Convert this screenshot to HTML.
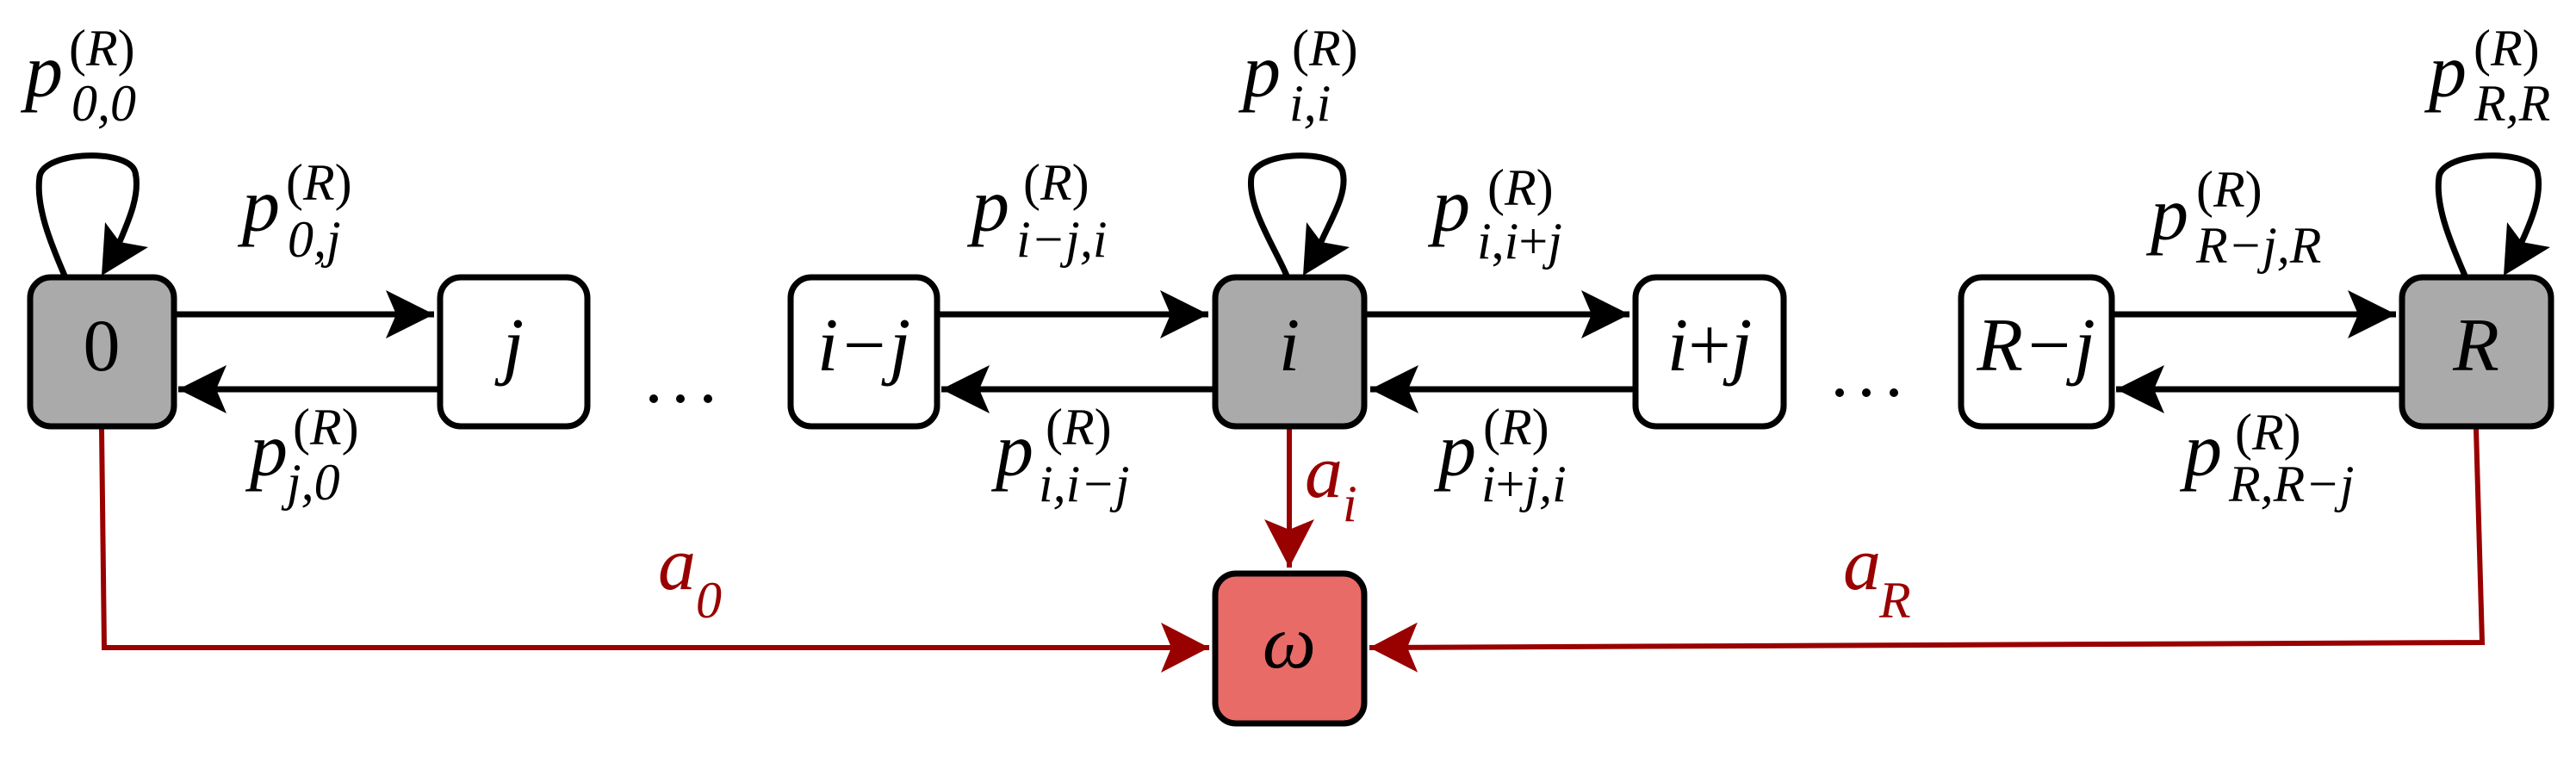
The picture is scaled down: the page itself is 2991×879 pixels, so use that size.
<!DOCTYPE html>
<html><head><meta charset="utf-8"><style>
html,body{margin:0;padding:0;background:#fff;}
svg{display:block;}
text{font-family:"Liberation Serif",serif;font-style:italic;}
.m{font-size:88px;}
.s{font-size:60px;}
.up{font-style:normal;}
</style></head><body>
<svg width="2991" height="879" viewBox="0 0 2991 879" xmlns="http://www.w3.org/2000/svg">
<defs>
<marker id="ab" markerUnits="userSpaceOnUse" viewBox="-60 -32 64 64" markerWidth="64" markerHeight="64" refX="0" refY="0" orient="auto">
<path d="M0,0 L-56,-28 L-44,0 L-56,28 Z" fill="#000"/></marker>
<marker id="ar" markerUnits="userSpaceOnUse" viewBox="-60 -32 64 64" markerWidth="64" markerHeight="64" refX="0" refY="0" orient="auto">
<path d="M0,0 L-56,-29 L-44,0 L-56,29 Z" fill="#990000"/></marker>
</defs>

<!-- red connectors -->
<g stroke="#990000" stroke-width="6" fill="none">
<path d="M118,498 L121,752 L1404,752" marker-end="url(#ar)"/>
<path d="M2875,498 L2882,746 L1590,752" marker-end="url(#ar)"/>
<path d="M1497,498 L1497,659" marker-end="url(#ar)"/>
</g>

<!-- black horizontal arrows -->
<g stroke="#000" stroke-width="7" fill="none">
<path d="M203,365 L504,365" marker-end="url(#ab)"/>
<path d="M508,452 L207,452" marker-end="url(#ab)"/>
<path d="M1089,365 L1403,365" marker-end="url(#ab)"/>
<path d="M1408,452 L1093,452" marker-end="url(#ab)"/>
<path d="M1587,365 L1892,365" marker-end="url(#ab)"/>
<path d="M1896,452 L1591,452" marker-end="url(#ab)"/>
<path d="M2453,365 L2782,365" marker-end="url(#ab)"/>
<path d="M2786,452 L2457,452" marker-end="url(#ab)"/>
</g>

<!-- self loops -->
<g stroke="#000" stroke-width="7" fill="none">
<path d="M75,320 C60,285 41,240 46,205 C51,175 150,172 157,200 C163,225 150,255 138,283"/>
<path d="M1494,320 C1479,285 1448,240 1453,205 C1458,175 1553,172 1559,200 C1565,225 1545,255 1533,283"/>
<path d="M2862,320 C2847,285 2827,240 2832,205 C2837,175 2940,172 2946,200 C2952,225 2940,255 2927,283"/>
</g>
<g fill="#000">
<path d="M118,320 L122,258 L139,281 L172,287 Z"/>
<path d="M1513,320 L1517,258 L1534,281 L1567,287 Z"/>
<path d="M2907,320 L2911,258 L2928,281 L2961,287 Z"/>
</g>

<!-- boxes -->
<g stroke="#000" stroke-width="7">
<rect x="35" y="322" width="167" height="173" rx="24" fill="#aaaaaa"/>
<rect x="511" y="322" width="171" height="173" rx="24" fill="#fff"/>
<rect x="918" y="322" width="170" height="173" rx="24" fill="#fff"/>
<rect x="1411" y="322" width="173" height="173" rx="24" fill="#aaaaaa"/>
<rect x="1899" y="322" width="172" height="173" rx="24" fill="#fff"/>
<rect x="2277" y="322" width="175" height="173" rx="24" fill="#fff"/>
<rect x="2789" y="322" width="173" height="173" rx="24" fill="#aaaaaa"/>
<rect x="1411" y="666" width="173" height="174" rx="24" fill="#e86b68"/>
</g>

<!-- node labels -->
<g class="m" text-anchor="middle" fill="#000">
<text x="118" y="430" class="up" style="font-size:86px">0</text>
<text x="596" y="430">j</text>
<text x="1003" y="430">i−j</text>
<text x="1497" y="430">i</text>
<text x="1985" y="430"><tspan>i</tspan><tspan class="up">+</tspan><tspan>j</tspan></text>
<text x="2364" y="430">R−j</text>
<text x="2875" y="430">R</text>
<text x="1497" y="775">ω</text>
</g>

<!-- dots -->
<g fill="#000">
<circle cx="759" cy="463" r="5"/><circle cx="790" cy="463" r="5"/><circle cx="822" cy="463" r="5"/>
<circle cx="2136" cy="456" r="5"/><circle cx="2167" cy="456" r="5"/><circle cx="2199" cy="456" r="5"/>
</g>

<!-- transition labels -->
<g fill="#000">
<text class="m" x="29" y="112">p</text><text class="s up" x="80" y="76">(<tspan font-style="italic">R</tspan>)</text><text class="s" x="83" y="140">0,0</text>

<text class="m" x="281" y="268">p</text><text class="s up" x="332" y="232">(<tspan font-style="italic">R</tspan>)</text><text class="s" x="334" y="298">0,j</text>

<text class="m" x="290" y="552">p</text><text class="s up" x="340" y="516">(<tspan font-style="italic">R</tspan>)</text><text class="s" x="333" y="580">j,0</text>

<text class="m" x="1443" y="112">p</text><text class="s up" x="1500" y="76">(<tspan font-style="italic">R</tspan>)</text><text class="s" x="1497" y="140">i,i</text>

<text class="m" x="1128" y="268">p</text><text class="s up" x="1188" y="232">(<tspan font-style="italic">R</tspan>)</text><text class="s" x="1180" y="298">i−j,i</text>

<text class="m" x="1663" y="268">p</text><text class="s up" x="1727" y="238">(<tspan font-style="italic">R</tspan>)</text><text class="s" x="1715" y="300">i<tspan font-style="normal">,</tspan>i<tspan font-style="normal">+</tspan>j</text>

<text class="m" x="1156" y="552">p</text><text class="s up" x="1214" y="516">(<tspan font-style="italic">R</tspan>)</text><text class="s" x="1206" y="582">i,i−j</text>

<text class="m" x="1670" y="552">p</text><text class="s up" x="1722" y="516">(<tspan font-style="italic">R</tspan>)</text><text class="s" x="1720" y="582">i<tspan font-style="normal">+</tspan>j,i</text>

<text class="m" x="2497" y="278">p</text><text class="s up" x="2550" y="240">(<tspan font-style="italic">R</tspan>)</text><text class="s" x="2550" y="305">R−j,R</text>

<text class="m" x="2536" y="552">p</text><text class="s up" x="2595" y="522">(<tspan font-style="italic">R</tspan>)</text><text class="s" x="2588" y="582">R,R−j</text>

<text class="m" x="2820" y="112">p</text><text class="s up" x="2872" y="76">(<tspan font-style="italic">R</tspan>)</text><text class="s" x="2873" y="140">R,R</text>
</g>

<!-- red labels -->
<g fill="#990000">
<text class="m" x="764" y="684">a</text><text class="s" x="808" y="717">0</text>
<text class="m" x="1515" y="577">a</text><text class="s" x="1559" y="605">i</text>
<text class="m" x="2140" y="684">a</text><text class="s" x="2182" y="717">R</text>
</g>
</svg>
</body></html>
